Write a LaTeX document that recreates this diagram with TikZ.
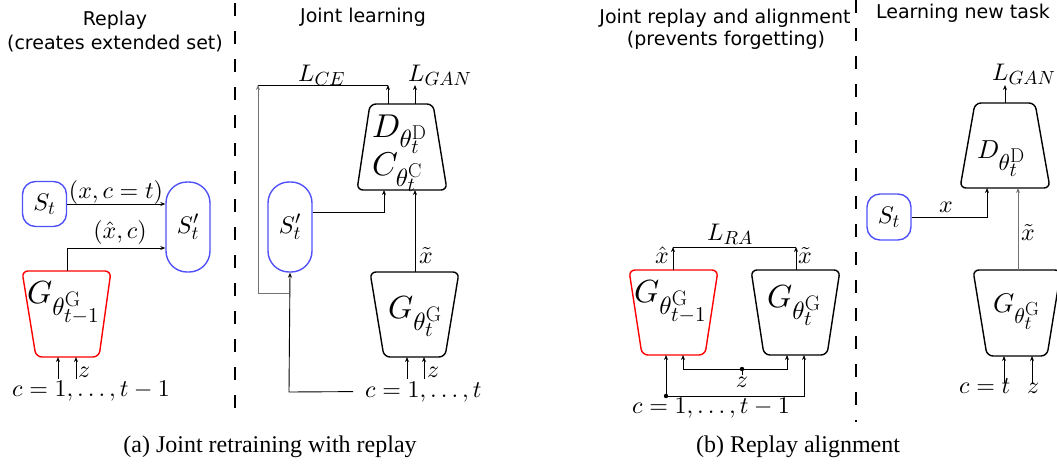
\documentclass[tikz,border=0pt]{standalone}
\usepackage{fontspec}
\newfontfamily\headfont{DejaVu Sans}
\newfontfamily\capfont{Liberation Serif}
\usetikzlibrary{arrows.meta}
\DeclareFontShape{OML}{cmm}{m}{it}{<->cmmi10}{}
\DeclareFontShape{OMS}{cmsy}{m}{n}{<->cmsy10}{}
\DeclareFontShape{OT1}{cmr}{m}{n}{<->cmr10}{}
\DeclareMathSizes{24}{24}{19}{16}
\DeclareMathSizes{26}{26}{23}{20}
\DeclareMathSizes{27}{27}{21.5}{19}
\DeclareMathSizes{32}{32}{25}{21}
\DeclareMathSizes{33}{33}{25}{20}
\definecolor{setblue}{RGB}{80,80,250}
\definecolor{linegray}{RGB}{115,115,115}
\tikzset{
  conn/.style={line width=0.9pt, -{Stealth[length=5pt,width=4pt]}},
  wire/.style={line width=0.9pt},
  setbox/.style={draw=setblue, line width=1.4pt, inner sep=0pt, font=\fontsize{24}{26}\selectfont},
  netline/.style={line width=1.4pt, rounded corners=6pt},
  lab/.style={inner sep=0pt, font=\fontsize{24}{26}\selectfont},
  bigG/.style={inner sep=0pt, font=\fontsize{32}{34}\selectfont},
  bigD/.style={inner sep=0pt, font=\fontsize{33}{35}\selectfont},
  head/.style={inner sep=0pt, font=\headfont\fontsize{19}{22}\selectfont},
  captxt/.style={inner sep=0pt, font=\capfont\fontsize{24}{28}\selectfont},
  sepline/.style={line width=1.6pt, dash pattern=on 13pt off 15pt},
}
\begin{document}
\begin{tikzpicture}[x=1pt,y=-1pt]
\path[use as bounding box] (0,0) rectangle (1057,469);
\clip (0,0) rectangle (1057,469);

% headings
\node[head, anchor=base] (h1) at (115,25) {Replay};
\node[head, anchor=base] (h1b) at (115,49) {(creates extended set)};
\node[head, anchor=base] (h2) at (363,22) {Joint learning};
\node[head, anchor=base] (h3) at (725,23) {Joint replay and alignment};
\node[head, anchor=base] (h3b) at (726,45) {(prevents forgetting)};
\node[head, anchor=base] (h4) at (963,18) {Learning new task};

% separators
\draw[sepline] (235,3) -- (235,422);
\draw[sepline] (856,0) -- (856,422);

% captions
\node[captxt, anchor=base] (capa) at (270,452) {(a) Joint retraining with replay};
\node[captxt, anchor=base] (capb) at (798,452) {(b) Replay alignment};

% ---------- panel a, replay ----------
\node[setbox, rounded corners=13pt, minimum width=44pt, minimum height=45pt] (St1) at (44.5,204) {$S_t$};
\node[setbox, rounded corners=21pt, minimum width=44pt, minimum height=90pt] (Sp1) at (188,227) {$S'_t$};
\draw[netline, draw=red] (66,271) -- (111,271) -- (99,357) -- (36,357) -- (22,271) -- cycle;
\node[bigG, anchor=base west] (G1txt) at (27,303) {$G_{\theta^{\mathrm{G}}_{t-1}}$};
\coordinate (G1top) at (67,271);
\coordinate (j1) at (67,248);
\draw[conn] (St1.east) -- (St1.east -| Sp1.west);
\node[lab, anchor=base] (l1) at (116,198) {$(x,c=t)$};
\draw[conn] (G1top) -- (j1) -- (j1 -| Sp1.west);
\node[lab, anchor=base] (l2) at (120,238) {$(\hat{x},c)$};
\node[lab, anchor=base west] (c1) at (12,396) {$c=1,\ldots,t-1$};
\node[lab, anchor=base west] (z1) at (78,377) {$z$};
\coordinate (a1s) at (58,379); \coordinate (a1e) at (58,357);
\coordinate (a2s) at (76,379); \coordinate (a2e) at (76,357);
\draw[conn] (a1s) -- (a1e);
\draw[conn] (a2s) -- (a2e);

% ---------- panel a, joint learning ----------
\node[setbox, rounded corners=21pt, minimum width=44pt, minimum height=90pt] (Sp2) at (290,227) {$S'_t$};
\draw[netline] (401,104) -- (433,104) -- (447,190) -- (357,190) -- (370,104) -- cycle;
\node[bigD, anchor=base west] (Dtxt) at (372,137) {$D_{\theta^{\mathrm{D}}_t}$};
\node[bigD, anchor=base west] (Ctxt) at (372,175) {$C_{\theta^{\mathrm{C}}_t}$};
\coordinate (D1tl) at (388,104); \coordinate (D1tr) at (415,104);
\coordinate (D1bl) at (384,190); \coordinate (D1br) at (415,190);
\draw[netline] (414,272) -- (459,272) -- (445,357) -- (384,357) -- (370,272) -- cycle;
\node[bigG, anchor=base west] (G2txt) at (388,318) {$G_{\theta^{\mathrm{G}}_t}$};
\coordinate (G2top) at (415,272);
\coordinate (LG1) at (415,85);
\coordinate (LCEr) at (388,85);
\coordinate (LCEl) at (258,85);
\coordinate (br) at (258,293);
\coordinate (bj) at (289,293);
\coordinate (cc) at (289,392);
\draw[conn] (D1tr) -- (LG1);
\node[lab, anchor=base west] (LGAN1) at (408,81) {$L_{GAN}$};
\draw[conn] (D1tl) -- (LCEr);
\draw[wire] (LCEl) -- (LCEr);
\node[lab, anchor=base west] (LCE) at (298,81) {$L_{CE}$};
\draw[conn, draw=linegray] (br) -- (LCEl);
\draw[wire, draw=linegray] (bj) -- (br);
\node[lab, anchor=base west] (c2) at (365,397) {$c=1,\ldots,t$};
\draw[conn] ([xshift=-12pt]c2.west) -- (cc) -- (Sp2.south);
\draw[conn] ([yshift=15pt]Sp2.east) -| (D1bl);
\draw[conn] (G2top) -- (D1br);
\node[lab, anchor=base west] (xt1) at (419,263) {$\tilde{x}$};
\node[lab, anchor=base west] (z2) at (427,377) {$z$};
\coordinate (b1s) at (407,379); \coordinate (b1e) at (407,357);
\coordinate (b2s) at (424,379); \coordinate (b2e) at (424,357);
\draw[conn] (b1s) -- (b1e);
\draw[conn] (b2s) -- (b2e);

% ---------- panel b, alignment ----------
\draw[netline, draw=red] (673,270) -- (718,270) -- (705,355) -- (642,355) -- (629,270) -- cycle;
\node[bigG, anchor=base west] (G3txt) at (634,302) {$G_{\theta^{\mathrm{G}}_{t-1}}$};
\draw[netline] (795,270) -- (840,270) -- (827,355) -- (764,355) -- (751,270) -- cycle;
\node[bigG, anchor=base west] (G4txt) at (767,307) {$G_{\theta^{\mathrm{G}}_t}$};
\coordinate (G3top) at (673,270); \coordinate (RAl) at (673,247);
\coordinate (G4top) at (796,270); \coordinate (RAr) at (796,247);
\draw[conn] (G3top) -- (RAl);
\draw[conn] (G4top) -- (RAr);
\draw[wire] (RAl) -- (RAr);
\node[lab, anchor=base west] (LRA) at (707,240) {$L_{RA}$};
\node[lab, anchor=base west] (xh3) at (655,263) {$\hat{x}$};
\node[lab, anchor=base west] (xt3) at (798,263) {$\tilde{x}$};
\coordinate (zd) at (742,369);
\fill (zd) circle (2.2pt);
\draw[conn] (zd) -| (683,355);
\draw[conn] (zd) -| (787,355);
\node[lab, anchor=base] (z3) at (742,387) {$z$};
\draw[wire] ([yshift=1pt]z3.north) -- (zd);
\coordinate (cd) at (666,396);
\fill (cd) circle (2.2pt);
\draw[conn] (cd) -- (666,355);
\draw[conn] (cd) -| (804,355);
\node[lab, anchor=base west] (c3) at (632,413) {$c=1,\ldots,t-1$};

% ---------- panel b, new task ----------
\draw[netline] (1005,103) -- (1035,103) -- (1050,188) -- (960,188) -- (975,103) -- cycle;
\node[bigD, font=\fontsize{26}{28}\selectfont, anchor=base west] (D2txt) at (977,158) {$D_{\theta^{\mathrm{D}}_t}$};
\coordinate (D2top) at (1005,103); \coordinate (LG2) at (1005,85);
\coordinate (D2bl) at (987,188); \coordinate (D2br) at (1018,188);
\draw[conn] (D2top) -- (LG2);
\node[lab, anchor=base west] (LGAN2) at (992,80) {$L_{GAN}$};
\node[setbox, rounded corners=13pt, minimum width=44pt, minimum height=46pt] (St2) at (889,217) {$S_t$};
\draw[conn] (St2.east) -| (D2bl);
\node[lab, anchor=base west] (x4) at (939,212) {$x$};
\draw[netline] (1017,270) -- (1061,270) -- (1047,356) -- (987,356) -- (973,270) -- cycle;
\node[bigG, font=\fontsize{27}{30}\selectfont, anchor=base west] (G5txt) at (993,312) {$G_{\theta^{\mathrm{G}}_t}$};
\coordinate (G5top) at (1018,270);
\draw[conn, draw=linegray] (G5top) -- (D2br);
\node[lab, anchor=base west] (xt4) at (1021,240) {$\tilde{x}$};
\node[lab, anchor=base west] (c4) at (959,393) {$c=t$};
\node[lab, anchor=base west] (z4) at (1027,393) {$z$};
\coordinate (d1s) at (1004,383); \coordinate (d1e) at (1004,356);
\coordinate (d2s) at (1032,383); \coordinate (d2e) at (1032,356);
\draw[conn] (d1s) -- (d1e);
\draw[conn] (d2s) -- (d2e);
\end{tikzpicture}
\end{document}
